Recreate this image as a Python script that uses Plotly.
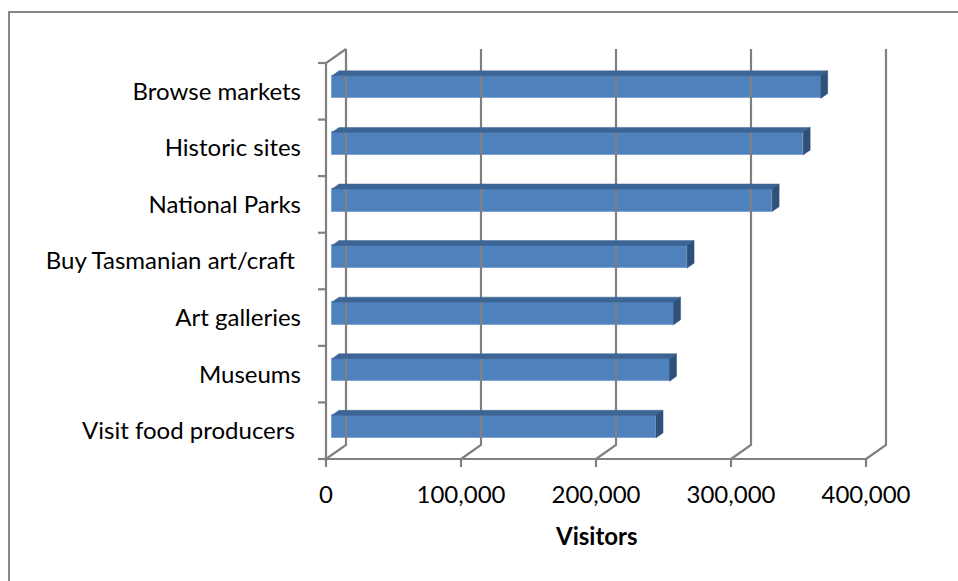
import plotly.graph_objects as go

# Visitor numbers by activity (bottom to top on the chart)
categories = [
    "Visit food producers ",
    "Museums",
    "Art galleries",
    "Buy Tasmanian art/craft ",
    "National Parks",
    "Historic sites",
    "Browse markets",
]
visitors = [240000, 250000, 253000, 263000, 326000, 349000, 362000]
x_ticks = [0, 100000, 200000, 300000, 400000]

# ---- pseudo-3D geometry (data units) ----
W, H = 958, 581
PLOT_L, PLOT_R, PLOT_T, PLOT_B = 312, 892, 45, 470
FRONT_X0, FRONT_X1 = 326, 866          # pixel span of 0..400,000 on the front plane
FRONT_Y0, FRONT_Y1 = 459, 63           # pixel span of the category axis
PX = (x_ticks[-1] - x_ticks[0]) / (FRONT_X1 - FRONT_X0)   # value units per pixel
SLOT = (FRONT_Y0 - FRONT_Y1) / len(categories)           # pixels per category
DX = 20 * PX                             # depth offset, x
DY = 14 / SLOT                           # depth offset, y
N = len(categories)
XMAX = x_ticks[-1]

x_range = [(PLOT_L - FRONT_X0) * PX, (PLOT_R - FRONT_X0) * PX]
y_range = [-(PLOT_B - FRONT_Y0) / SLOT, (FRONT_Y0 - PLOT_T) / SLOT]

GRID = "#808080"
fig = go.Figure()


def seg_trace(xs, ys, width=2.2):
    return go.Scatter(x=xs, y=ys, mode="lines", line=dict(color=GRID, width=width),
                      hoverinfo="skip", showlegend=False)


# back-wall gridlines and floor diagonals
gx, gy = [], []
for v in x_ticks:
    gx += [v, v + DX, v + DX, None]
    gy += [0, DY, N + DY, None]
# front floor edge and left wall
gx += [0, XMAX, None, 0, 0, DX, None]
gy += [0, 0, None, 0, N, N + DY, None]
# tick marks
tick_len = 8 * PX
for i in range(N + 1):
    gx += [-tick_len, 0, None]
    gy += [i, i, None]
for v in x_ticks:
    gx += [v, v, None]
    gy += [0, -8 / SLOT, None]
fig.add_trace(seg_trace(gx, gy))

# bars: front face at 30% depth, box depth 35%
BAR_W = 0.4
D0, D1 = 0.30, 0.35
yc = [i + 0.5 + D0 * DY for i in range(N)]
fig.add_trace(go.Bar(
    x=visitors, y=yc, base=D0 * DX, orientation="h", width=BAR_W,
    marker=dict(color="#4F81BD", line=dict(color="#7FA3D3", width=1)),
    hoverinfo="skip", showlegend=False,
))

ddx, ddy = D1 * DX, D1 * DY
for v, c in zip(visitors, yc):
    x0, x1 = D0 * DX, D0 * DX + v
    yb, yt = c - BAR_W / 2, c + BAR_W / 2
    # top face
    fig.add_trace(go.Scatter(
        x=[x0, x1, x1 + ddx, x0 + ddx, x0], y=[yt, yt, yt + ddy, yt + ddy, yt],
        mode="lines", fill="toself", fillcolor="#3C6494", line=dict(color="#3C6494", width=0.5),
        hoverinfo="skip", showlegend=False))
    # right face
    fig.add_trace(go.Scatter(
        x=[x1, x1 + ddx, x1 + ddx, x1, x1], y=[yb, yb + ddy, yt + ddy, yt, yb],
        mode="lines", fill="toself", fillcolor="#2F5078", line=dict(color="#2F5078", width=0.5),
        hoverinfo="skip", showlegend=False))

tick_text = [c.rstrip() + "\u00a0" * (len(c) - len(c.rstrip())) for c in categories]

FONT = "Lato"
FS = 24
fig.update_layout(
    width=W, height=H,
    margin=dict(l=PLOT_L, r=W - PLOT_R, t=PLOT_T, b=H - PLOT_B),
    paper_bgcolor="white", plot_bgcolor="white",
    font=dict(family=FONT, size=FS, color="black"),
    bargap=0,
    xaxis=dict(range=x_range, tickvals=x_ticks, ticktext=[f"{v:,}" for v in x_ticks],
               showgrid=False, zeroline=False, showline=False, ticks="",
               ticklabelstandoff=8, fixedrange=True),
    yaxis=dict(range=y_range, tickvals=[i + 0.5 for i in range(N)], ticktext=tick_text,
               showgrid=False, zeroline=False, showline=False, ticks="",
               ticklabelstandoff=10, fixedrange=True),
    annotations=[dict(text="<b>Visitors</b>", x=XMAX / 2, xref="x",
                      y=(PLOT_B - 535) / (PLOT_B - PLOT_T), yref="paper",
                      xanchor="center", yanchor="middle", showarrow=False,
                      font=dict(family=FONT, size=FS, color="black"))],
    shapes=[dict(type="rect", xref="paper", yref="paper",
                 x0=(9 - PLOT_L) / (PLOT_R - PLOT_L), x1=(965 - PLOT_L) / (PLOT_R - PLOT_L),
                 y0=(PLOT_B - 590) / (PLOT_B - PLOT_T), y1=(PLOT_B - 12) / (PLOT_B - PLOT_T),
                 line=dict(color="#868686", width=2), fillcolor="rgba(0,0,0,0)")],
)

fig.write_html("out.html")
